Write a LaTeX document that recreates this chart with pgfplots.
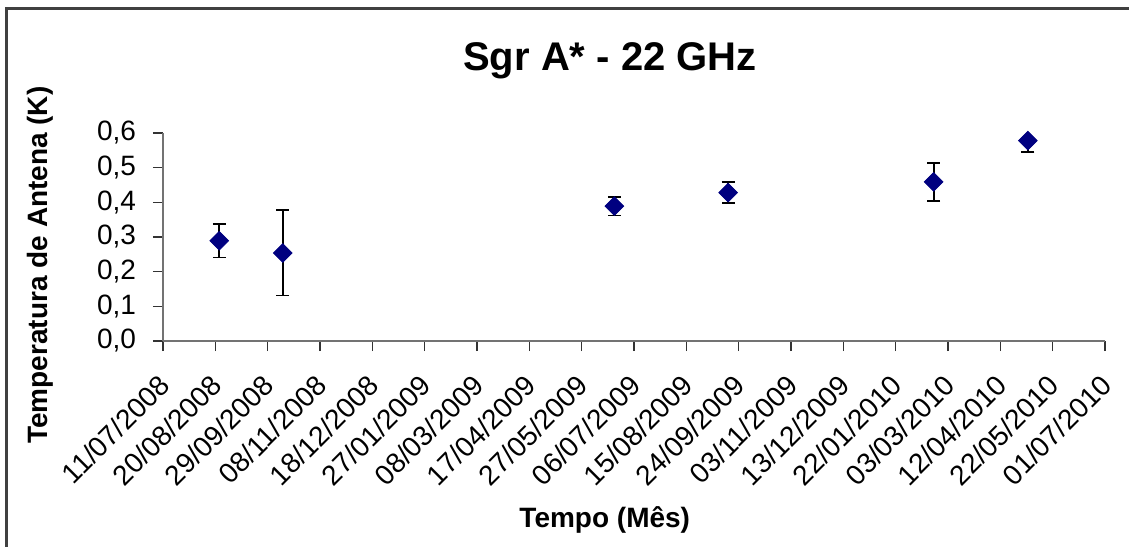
\documentclass[border=0pt]{standalone}
\usepackage{fontspec}
\setmainfont{Liberation Sans}
\usepackage{pgfplots}
\pgfplotsset{compat=1.18}
\definecolor{navy}{HTML}{000080}
\pgfplotstableread{
x y e
43 0.289 0.048
91.5 0.254 0.123
345 0.389 0.027
432 0.428 0.031
589 0.459 0.054
661 0.578 0.032
}\datatable
\begin{document}
\begin{tikzpicture}
\path[use as bounding box] (0,0) rectangle (564.5bp,273.5bp);
\draw[line width=1.5bp, black!75] (3.25bp,0) -- (3.25bp,269bp) -- (564.5bp,269bp);
\begin{axis}[
  at={(81.5bp,103bp)}, anchor=south west,
  scale only axis, width=471bp, height=104bp,
  xmin=0, xmax=720, ymin=0, ymax=0.6,
  axis x line=bottom, axis y line=left,
  axis line style={-, draw=black!55, line width=1bp},
  tick align=outside, major tick length=5bp,
  tick style={black!80, line width=0.8bp},
  xtick={0,40,80,120,160,200,240,280,320,360,400,440,480,520,560,600,640,680,720},
  xticklabels={11/07/2008,20/08/2008,29/09/2008,08/11/2008,18/12/2008,27/01/2009,08/03/2009,17/04/2009,27/05/2009,06/07/2009,15/08/2009,24/09/2009,03/11/2009,13/12/2009,22/01/2010,03/03/2010,12/04/2010,22/05/2010,01/07/2010},
  ytick={0,0.1,0.2,0.3,0.4,0.5,0.6},
  /pgf/number format/assume math mode=true,
  yticklabel style={/pgf/number format/fixed, /pgf/number format/fixed zerofill, /pgf/number format/precision=1, /pgf/number format/use comma, xshift=-5bp, font=\fontsize{14bp}{16bp}\selectfont},
  xticklabel style={xshift=-3bp, rotate=45, anchor=north east, inner sep=0pt, font=\fontsize{14bp}{16bp}\selectfont},
  xticklabel shift={11bp},
  xlabel={Tempo (Mês)},
  xlabel style={at={(axis description cs:0.469,0)}, anchor=base, yshift=-93bp, font=\bfseries\fontsize{14bp}{16bp}\selectfont},
  ylabel={Temperatura de Antena (K)},
  ylabel style={at={(axis description cs:-0.1221,0.365)}, anchor=base, font=\bfseries\fontsize{14bp}{16bp}\selectfont},
  title={Sgr A* - 22 GHz},
  title style={at={(axis description cs:0.4745,1.245)}, anchor=base, font=\bfseries\fontsize{20bp}{24bp}\selectfont},
]
\addplot[only marks, mark=square*, mark size=3.3bp,
  mark options={rotate=45, fill=navy, draw=navy},
  error bars/.cd, y dir=both, y explicit,
  error mark=-,
  error bar style={black, line width=0.9bp},
  error mark options={rotate=90, black, mark size=3.25bp, line width=0.9bp}]
  table[x=x, y=y, y error=e] {\datatable};
\end{axis}
\end{tikzpicture}
\end{document}
